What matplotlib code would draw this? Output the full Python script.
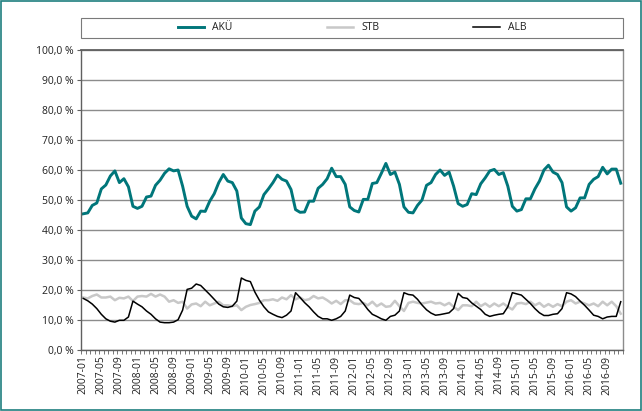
import numpy as np
import pandas as pd
import matplotlib
matplotlib.use("Agg")
import matplotlib.pyplot as plt
from matplotlib.patches import Rectangle

plt.rcParams['font.family'] = ['Open Sans', 'DejaVu Sans']

# --- Data (monthly shares in %, 2007-01 .. 2016-12) ---
months = [p.strftime('%Y-%m') for p in pd.period_range('2007-01', '2016-12', freq='M')]

aku = [45.4, 45.7, 48.2, 49.0, 53.7, 55.0, 58.0, 59.7, 55.8, 57.1, 54.4, 47.9,
       47.2, 47.9, 51.0, 51.3, 54.9, 56.6, 58.9, 60.4, 59.7, 60.0, 54.6, 47.9,
       44.6, 43.7, 46.3, 46.2, 49.6, 52.1, 55.8, 58.5, 56.3, 55.8, 53.0, 44.0,
       42.1, 41.8, 46.3, 47.7, 51.8, 53.7, 55.8, 58.3, 56.9, 56.3, 53.5, 46.8,
       45.9, 46.0, 49.6, 49.6, 53.9, 55.2, 57.1, 60.6, 57.8, 57.8, 55.2, 47.7,
       46.5, 46.0, 50.2, 50.2, 55.5, 55.8, 58.9, 62.2, 58.5, 59.3, 55.2, 47.7,
       45.9, 45.7, 48.2, 50.0, 54.9, 55.8, 58.5, 60.0, 58.2, 59.3, 54.6, 48.8,
       47.9, 48.5, 52.1, 51.8, 55.4, 57.4, 59.7, 60.2, 58.5, 59.1, 54.6, 47.9,
       46.3, 46.8, 50.4, 50.4, 53.7, 56.3, 60.0, 61.6, 59.3, 58.5, 55.8, 47.7,
       46.3, 47.4, 50.7, 50.7, 55.2, 56.9, 57.8, 60.9, 58.7, 60.3, 60.3, 55.6]

stb = [17.5, 17.2, 18.0, 18.5, 17.5, 17.5, 17.8, 16.6, 17.4, 17.2, 17.8, 16.3,
       17.8, 18.0, 17.8, 18.7, 17.8, 18.5, 17.8, 16.1, 16.6, 15.7, 16.1, 13.8,
       15.2, 15.5, 14.6, 16.1, 14.9, 15.5, 16.1, 14.9, 14.9, 14.6, 14.9, 13.3,
       14.4, 15.0, 15.3, 15.7, 16.6, 16.6, 16.9, 16.4, 17.5, 16.9, 18.3, 16.9,
       17.5, 16.6, 16.9, 18.0, 17.2, 17.5, 16.6, 15.5, 16.4, 15.3, 16.6, 16.6,
       15.5, 15.3, 15.7, 14.9, 16.1, 14.6, 15.5, 14.4, 14.6, 16.4, 14.6, 13.0,
       15.7, 16.1, 15.7, 15.5, 15.8, 16.1, 15.5, 15.7, 14.9, 15.7, 14.4, 13.3,
       14.9, 14.9, 14.6, 16.1, 14.6, 15.5, 14.4, 15.5, 14.6, 15.5, 14.4, 13.5,
       15.5, 15.7, 15.3, 16.1, 14.9, 15.7, 14.4, 15.3, 14.4, 15.3, 14.6, 16.1,
       16.6, 15.5, 16.1, 15.5, 14.9, 15.5, 14.6, 16.1, 14.9, 16.1, 14.6, 12.1]

alb = [17.2, 16.4, 15.3, 13.8, 11.9, 10.4, 9.6, 9.3, 9.9, 9.9, 11.0, 16.3,
       15.3, 14.4, 13.0, 11.9, 10.4, 9.3, 9.1, 9.1, 9.3, 10.1, 13.3, 20.2,
       20.6, 22.0, 21.5, 20.0, 18.5, 16.9, 15.3, 14.4, 14.2, 14.6, 16.3, 24.0,
       23.2, 22.8, 19.3, 16.6, 14.4, 12.7, 11.9, 11.2, 10.8, 11.6, 13.0, 19.1,
       17.5, 15.8, 14.4, 12.7, 11.2, 10.4, 10.4, 9.9, 10.4, 11.2, 13.0, 18.3,
       17.5, 17.2, 15.5, 13.5, 11.9, 11.2, 10.4, 9.9, 11.2, 11.6, 13.0, 19.1,
       18.5, 18.3, 16.9, 15.0, 13.4, 12.3, 11.6, 11.8, 12.1, 12.4, 13.8, 18.9,
       17.5, 17.2, 15.7, 14.6, 13.5, 11.9, 11.2, 11.6, 11.9, 12.1, 14.4, 19.1,
       18.7, 18.3, 16.9, 15.5, 13.8, 12.4, 11.5, 11.5, 11.9, 12.1, 13.8, 19.1,
       18.7, 17.8, 16.3, 14.9, 13.3, 11.6, 11.2, 10.4, 11.0, 11.2, 11.2, 16.1]

series_names = ['AKÜ', 'STB', 'ALB']
colors = ['#00767a', '#c8c8c8', '#000000']
widths = [2.1, 1.8, 1.1]

# --- Figure ---
W, H = 642, 411
L, R, T, B = 81, 623, 50, 350   # plot area in pixels
fig = plt.figure(figsize=(W / 100, H / 100), dpi=100)
ax = fig.add_axes([L / W, 1 - B / H, (R - L) / W, (B - T) / H])

x = np.arange(len(months)) + 0.5
for vals, name, c, lw in zip([aku, stb, alb], series_names, colors, widths):
    ax.plot(x, vals, color=c, lw=lw, label=name, solid_joinstyle='round')

ax.set_xlim(0, len(months))
ax.set_ylim(0, 100)

# y axis
yt = np.arange(0, 101, 10)
ax.set_yticks(yt)
ax.set_yticklabels([f'{v:.1f} %'.replace('.', ',') for v in yt], fontsize=7.5, color='#202020')
ax.yaxis.grid(True, color='#8c8c8c', lw=1.0)
ax.set_axisbelow(True)
ax.tick_params(axis='y', length=3, width=0.8, color='#606060', pad=2)

# x axis: labels every 4 months, tick marks between categories
ax.set_xticks(x[::4])
ax.set_xticklabels(months[::4], rotation=90, fontsize=7.5, color='#202020')
ax.set_xticks(np.arange(len(months) + 1), minor=True)
ax.tick_params(axis='x', which='major', length=0, pad=4)
ax.tick_params(axis='x', which='minor', length=3, width=0.6, color='#606060')

for side in ['left', 'bottom']:
    ax.spines[side].set_color('#606060')
    ax.spines[side].set_linewidth(1.0)
ax.spines['top'].set_color('#606060')
ax.spines['top'].set_linewidth(1.3)
ax.spines['right'].set_color('#8c8c8c')
ax.spines['right'].set_linewidth(1.0)

# legend box across the top
fig.patches.append(Rectangle((L / W, 1 - 38 / H), (R - L) / W, 20 / H, transform=fig.transFigure,
                             fill=False, edgecolor='#7a7a7a', lw=0.8))
leg = fig.legend(loc='center', ncol=3, bbox_to_anchor=((L + R) / 2 / W, 1 - 28 / H),
                 frameon=False, fontsize=7.5, handlelength=2.56, handletextpad=0.77,
                 columnspacing=9.0)
for t in leg.get_texts():
    t.set_color('#202020')

# teal frame around the chart
fig.patches.append(Rectangle((1.5 / W, 1.5 / H), 1 - 3 / W, 1 - 3 / H, transform=fig.transFigure,
                             fill=False, edgecolor='#1f7f7f', lw=1.2))

fig.savefig('out.png', dpi=100)
